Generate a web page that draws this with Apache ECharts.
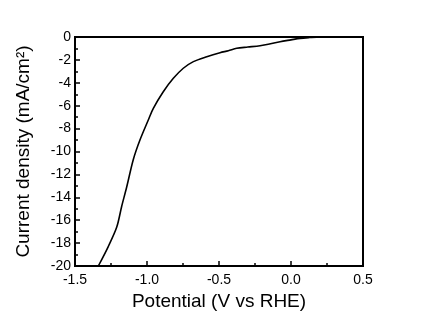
<!DOCTYPE html>
<html>
<head>
<meta charset="utf-8">
<script src="https://cdn.jsdelivr.net/npm/echarts@6/dist/echarts.min.js"></script>
<style>html,body{margin:0;padding:0;background:#fff;}#c{width:421px;height:322px;}</style>
</head>
<body>
<div id="c"></div>
<script>
const potential = [-1.338, -1.269, -1.21, -1.176, -1.141, -1.095, -1.049, -0.991, -0.956, -0.887, -0.817, -0.748, -0.678, -0.585, -0.493, -0.435, -0.377, -0.30, -0.215, -0.158, -0.076, 0.0, 0.0625, 0.13, 0.2];
const current = [-20, -18.3, -16.6, -14.8, -13.1, -10.7, -9.0, -7.25, -6.23, -4.78, -3.61, -2.73, -2.15, -1.72, -1.37, -1.2, -0.99, -0.88, -0.76, -0.64, -0.41, -0.25, -0.12, -0.05, 0];
const xTicks = [-1.5, -1.0, -0.5, 0.0, 0.5];
const yTicks = [0, -2, -4, -6, -8, -10, -12, -14, -16, -18, -20];

const chart = echarts.init(document.getElementById('c'), null, {renderer: 'canvas'});
const font = 'Liberation Sans, Arial, sans-serif';
chart.setOption({
  animation: false,
  grid: {left: 75, right: 58, top: 37, bottom: 56, show: true, borderColor: '#000', borderWidth: 2, backgroundColor: 'transparent'},
  xAxis: {
    type: 'value', min: xTicks[0], max: xTicks[xTicks.length - 1], interval: 0.5,
    name: 'Potential (V vs RHE)', nameLocation: 'middle', nameGap: 24,
    nameTextStyle: {fontFamily: font, fontSize: 19, color: '#000'},
    axisLine: {show: true, onZero: false, lineStyle: {color: '#000', width: 2}},
    axisTick: {show: true, inside: true, length: 5, lineStyle: {color: '#000', width: 1.5}},
    minorTick: {show: true, splitNumber: 2, length: 3, lineStyle: {color: '#000', width: 1.5}},
    splitLine: {show: false},
    axisLabel: {fontFamily: font, fontSize: 14, color: '#000', margin: 7, formatter: v => v.toFixed(1)}
  },
  yAxis: {
    type: 'value', min: yTicks[yTicks.length - 1], max: yTicks[0], interval: 2,
    name: 'Current density (mA/cm²)', nameLocation: 'middle', nameGap: 42,
    nameTextStyle: {fontFamily: font, fontSize: 19, color: '#000'},
    axisLine: {show: true, onZero: false, lineStyle: {color: '#000', width: 2}},
    axisTick: {show: true, inside: true, length: 5, lineStyle: {color: '#000', width: 1.5}},
    minorTick: {show: true, splitNumber: 2, length: 3, lineStyle: {color: '#000', width: 1.5}},
    splitLine: {show: false},
    axisLabel: {fontFamily: font, fontSize: 14, color: '#000', margin: 4}
  },
  series: [{
    type: 'line',
    data: potential.map((p, i) => [p, current[i]]),
    smooth: 0.3,
    showSymbol: false,
    lineStyle: {color: '#000', width: 1.6},
    clip: true
  }]
});
</script>
</body>
</html>
